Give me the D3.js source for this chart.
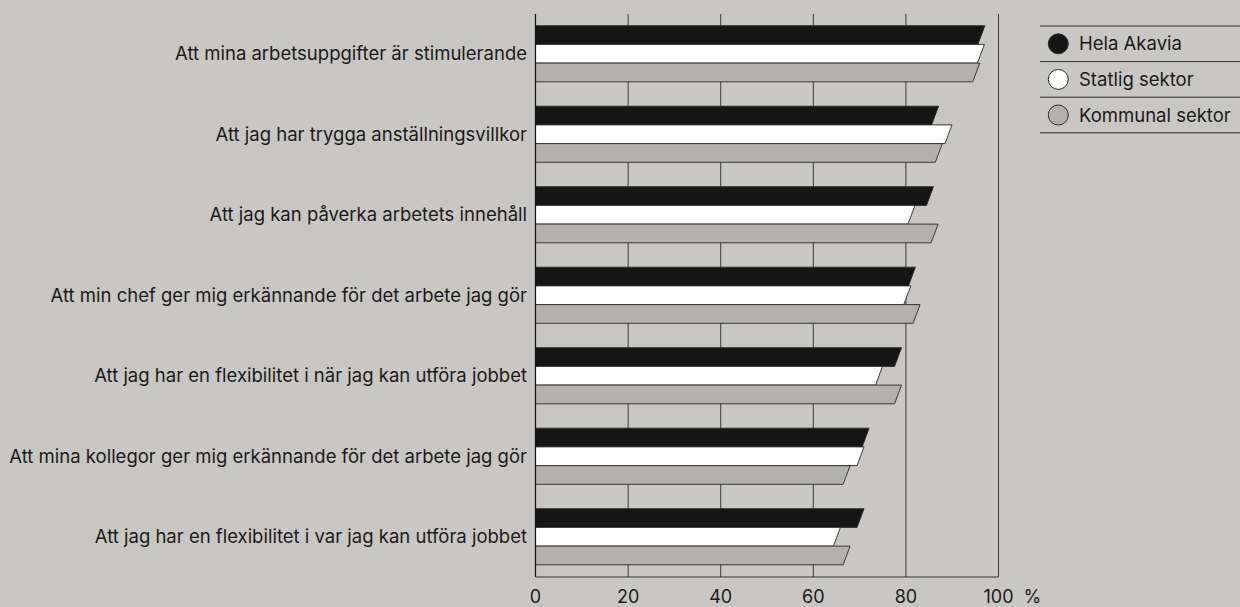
<!DOCTYPE html>
<html>
<head>
<meta charset="utf-8">
<script src="https://cdn.jsdelivr.net/npm/d3@7"></script>
<style>
  html, body { margin: 0; padding: 0; background: #c9c7c4; }
  svg { display: block; }
  text { font-family: Inter, "Liberation Sans", Arial, sans-serif; fill: #1a1a1a; }
</style>
</head>
<body>
<svg id="chart" width="1240" height="607"></svg>
<script>
const categories = [
  "Att mina arbetsuppgifter är stimulerande",
  "Att jag har trygga anställningsvillkor",
  "Att jag kan påverka arbetets innehåll",
  "Att min chef ger mig erkännande för det arbete jag gör",
  "Att jag har en flexibilitet i när jag kan utföra jobbet",
  "Att mina kollegor ger mig erkännande för det arbete jag gör",
  "Att jag har en flexibilitet i var jag kan utföra jobbet"
];
const seriesNames = ["Hela Akavia", "Statlig sektor", "Kommunal sektor"];
const helaAkavia = [96.3, 86.3, 85.2, 81.3, 78.3, 71.3, 70.2];
const statligSektor = [96.2, 89.2, 81.2, 80.3, 74.2, 70.2, 65.1];
const kommunalSektor = [95.2, 87.1, 86.2, 82.3, 78.3, 67.2, 67.2];
const xTicks = [0, 20, 40, 60, 80, 100];

const seriesValues = [helaAkavia, statligSektor, kommunalSektor];
const colors = ["#151515", "#ffffff", "#b2b1ab"];

const svg = d3.select("#chart");
const plot = { left: 535.5, right: 998.5, top: 13.5, bottom: 577 };

const x = d3.scaleLinear().domain([0, 100]).range([plot.left, plot.right]);
const y = d3.scaleBand().domain(categories).range([plot.top, plot.bottom]).paddingInner(0).paddingOuter(0);
const groupH = 56.1;
const ys = d3.scaleBand().domain(seriesNames).range([0, groupH]);

// gridlines
svg.append("g").selectAll("line").data(xTicks.filter(d => d > 0)).join("line")
  .attr("x1", d => x(d)).attr("x2", d => x(d))
  .attr("y1", plot.top + 0.5).attr("y2", plot.bottom)
  .attr("stroke", "#3a3a3a").attr("stroke-width", 1);

// bars
const slant = 7;
const rows = [];
categories.forEach((c, i) => {
  seriesNames.forEach((s, j) => {
    rows.push({ cat: c, series: s, value: seriesValues[j][i], color: colors[j] });
  });
});
svg.append("g").selectAll("path").data(rows).join("path")
  .attr("d", d => {
    const top = y(d.cat) + y.bandwidth() / 2 - groupH / 2 + ys(d.series);
    const bot = top + ys.bandwidth();
    const xv = x(d.value);
    return `M${x(0)},${top}L${xv + slant / 2},${top}L${xv - slant / 2},${bot}L${x(0)},${bot}Z`;
  })
  .attr("fill", d => d.color)
  .attr("stroke", "#2a2a2a").attr("stroke-width", 0.9).attr("stroke-linejoin", "miter");

// axis lines
svg.append("line").attr("x1", x(0)).attr("x2", x(0)).attr("y1", plot.top + 0.5).attr("y2", plot.bottom)
  .attr("stroke", "#111").attr("stroke-width", 1.2);
svg.append("line").attr("x1", x(0)).attr("x2", x(100)).attr("y1", plot.bottom).attr("y2", plot.bottom)
  .attr("stroke", "#333").attr("stroke-width", 1);

// x tick labels
svg.append("g").selectAll("text").data(xTicks).join("text")
  .attr("x", d => x(d)).attr("y", 603)
  .attr("text-anchor", "middle").attr("font-size", 18)
  .text(d => d);
svg.append("text").attr("x", x(100) + 25).attr("y", 603).attr("font-size", 18).text("%");

// category labels
svg.append("g").selectAll("text").data(categories).join("text")
  .attr("x", 527).attr("y", d => y(d) + y.bandwidth() / 2)
  .attr("dy", "0.36em")
  .attr("text-anchor", "end").attr("font-size", 18.5)
  .text(d => d);

// legend
const legTop = 26, legStep = 35.6;
const lg = svg.append("g");
d3.range(seriesNames.length + 1).forEach(i => {
  lg.append("line").attr("x1", 1040).attr("x2", 1240)
    .attr("y1", legTop + i * legStep).attr("y2", legTop + i * legStep)
    .attr("stroke", "#2a2a2a").attr("stroke-width", 1);
});
seriesNames.forEach((s, i) => {
  const cy = legTop + i * legStep + legStep / 2;
  lg.append("circle").attr("cx", 1058.3).attr("cy", cy).attr("r", 10)
    .attr("fill", colors[i]).attr("stroke", "#2a2a2a").attr("stroke-width", 1);
  lg.append("text").attr("x", 1079).attr("y", cy).attr("dy", "0.36em")
    .attr("font-size", 18.5).text(s);
});
</script>
</body>
</html>
